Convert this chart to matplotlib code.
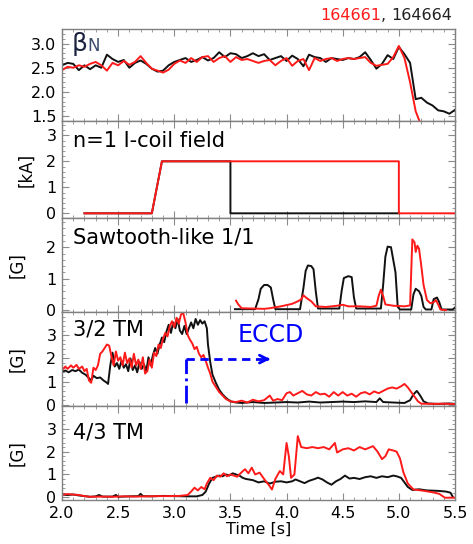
import numpy as np
import matplotlib
matplotlib.use("Agg")
import matplotlib.pyplot as plt
from matplotlib.ticker import MultipleLocator, AutoMinorLocator, FormatStrFormatter

# ---- data ----
bn_t = np.round(np.arange(2.0, 5.501, 0.05), 2)
bn_black = [2.55, 2.60, 2.58, 2.45, 2.55, 2.47, 2.55, 2.50, 2.77, 2.68,
            2.62, 2.66, 2.50, 2.60, 2.65, 2.58, 2.48, 2.42, 2.44, 2.55,
            2.62, 2.66, 2.70, 2.62, 2.66, 2.72, 2.65, 2.70, 2.82, 2.72,
            2.80, 2.78, 2.70, 2.74, 2.80, 2.74, 2.78, 2.66, 2.70, 2.74,
            2.64, 2.75, 2.68, 2.53, 2.77, 2.72, 2.70, 2.62, 2.70, 2.68,
            2.66, 2.70, 2.68, 2.72, 2.82, 2.66, 2.48, 2.58, 2.76, 2.68,
            2.93, 2.78, 2.60, 1.85, 1.88, 1.78, 1.72, 1.62, 1.60, 1.55, 1.63]
bn_red = [2.45, 2.52, 2.50, 2.55, 2.52, 2.58, 2.62, 2.55, 2.44, 2.60,
          2.55, 2.64, 2.56, 2.62, 2.74, 2.60, 2.48, 2.44, 2.40, 2.46,
          2.58, 2.65, 2.60, 2.70, 2.62, 2.72, 2.74, 2.62, 2.70, 2.74,
          2.62, 2.72, 2.66, 2.68, 2.64, 2.60, 2.64, 2.66, 2.55, 2.64,
          2.70, 2.54, 2.64, 2.68, 2.45, 2.70, 2.64, 2.68, 2.70, 2.64,
          2.68, 2.70, 2.68, 2.70, 2.72, 2.60, 2.54, 2.56, 2.58, 2.72,
          2.95, 2.70, 2.20, 1.60, 1.30]

icoil_black_t = [2.2, 2.8, 2.89, 3.5, 3.5, 5.0]
icoil_black = [0, 0, 2, 2, 0, 0]
icoil_red_t = [2.2, 2.8, 2.89, 5.0, 5.0, 5.5]
icoil_red = [0, 0, 2, 2, 0, 0]

saw_black_t = [3.54, 3.72, 3.75, 3.77, 3.80, 3.83, 3.86, 3.88, 3.90, 4.12, 4.15, 4.17,
               4.19, 4.22, 4.24, 4.26, 4.28, 4.47, 4.49, 4.51, 4.55, 4.58, 4.60, 4.62,
               4.84, 4.86, 4.88, 4.90, 4.93, 4.95, 4.97, 4.99, 5.01, 5.11, 5.13, 5.15,
               5.18, 5.20, 5.22, 5.24, 5.29, 5.31, 5.34, 5.36, 5.38, 5.48, 5.50]
saw_black = [0.03, 0.03, 0.35, 0.68, 0.80, 0.80, 0.72, 0.35, 0.03, 0.03, 0.70, 1.25,
             1.42, 1.40, 1.30, 0.60, 0.05, 0.05, 0.60, 1.02, 1.08, 1.05, 0.40, 0.05,
             0.05, 0.80, 1.70, 2.02, 2.00, 1.60, 1.20, 0.10, 0.02, 0.02, 0.50, 0.68,
             0.60, 0.45, 0.10, 0.02, 0.02, 0.35, 0.40, 0.25, 0.02, 0.02, 0.08]
saw_red_t = [3.55, 3.57, 3.60, 3.70, 3.80, 3.85, 3.95, 4.05, 4.10, 4.13, 4.15, 4.18,
             4.22, 4.26, 4.35, 4.45, 4.50, 4.55, 4.65, 4.75, 4.80, 4.82, 4.84, 4.86,
             4.88, 4.95, 5.05, 5.10, 5.11, 5.12, 5.14, 5.15, 5.165, 5.18, 5.20, 5.22,
             5.25, 5.28, 5.31, 5.33, 5.35, 5.37, 5.42]
saw_red = [0.30, 0.18, 0.06, 0.05, 0.04, 0.06, 0.12, 0.20, 0.28, 0.34, 0.47, 0.38,
           0.28, 0.12, 0.10, 0.14, 0.17, 0.12, 0.12, 0.10, 0.14, 0.45, 0.65, 0.45,
           0.18, 0.14, 0.12, 0.15, 1.20, 2.25, 2.15, 1.85, 2.05, 1.95, 1.40, 0.80,
           0.32, 0.22, 0.25, 0.32, 0.18, 0.02, 0.00]

tm32_black_t = [2.00, 2.03, 2.06, 2.09, 2.12, 2.15, 2.18, 2.21, 2.24, 2.26, 2.28, 2.31,
                2.34, 2.37, 2.40, 2.41, 2.43, 2.45, 2.47, 2.49, 2.51, 2.53, 2.55, 2.57,
                2.59, 2.61, 2.63, 2.65, 2.67, 2.69, 2.71, 2.73, 2.75, 2.77, 2.79, 2.81,
                2.83, 2.85, 2.87, 2.89, 2.91, 2.93, 2.95, 2.97, 2.99, 3.01, 3.03, 3.05,
                3.07, 3.09, 3.11, 3.13, 3.15, 3.17, 3.19, 3.21, 3.23, 3.25, 3.27, 3.29,
                3.30, 3.32, 3.34, 3.37, 3.40, 3.43, 3.46, 3.50, 3.55, 3.60, 3.70, 3.80,
                3.90, 4.00, 4.10, 4.20, 4.30, 4.40, 4.50, 4.60, 4.70, 4.80, 4.83, 4.86,
                4.95, 5.05, 5.10, 5.13, 5.16, 5.19, 5.22, 5.26, 5.35, 5.45, 5.50]
tm32_black = [1.42, 1.48, 1.40, 1.50, 1.45, 1.52, 1.38, 1.30, 1.15, 1.05, 1.25, 1.15,
              1.18, 1.05, 0.95, 0.90, 1.70, 2.25, 1.65, 1.80, 1.55, 1.90, 1.60, 1.75,
              1.45, 2.00, 1.50, 1.70, 1.40, 1.85, 1.55, 1.75, 1.45, 2.05, 1.70, 2.15,
              2.45, 2.20, 2.60, 2.90, 2.70, 3.15, 3.45, 3.10, 3.55, 3.30, 3.70, 3.20,
              3.05, 3.40, 3.05, 3.30, 3.55, 3.30, 3.70, 3.45, 3.65, 3.50, 3.60, 3.30,
              2.60, 1.85, 1.30, 0.95, 0.65, 0.45, 0.30, 0.15, 0.10, 0.08, 0.12, 0.08,
              0.10, 0.12, 0.10, 0.14, 0.10, 0.12, 0.14, 0.12, 0.15, 0.12, 0.28, 0.12,
              0.10, 0.08, 0.20, 0.45, 0.60, 0.40, 0.15, 0.06, 0.04, 0.06, 0.04]
tm32_red_t = [2.00, 2.03, 2.05, 2.08, 2.10, 2.13, 2.15, 2.18, 2.20, 2.22, 2.24, 2.26,
              2.28, 2.30, 2.32, 2.34, 2.36, 2.38, 2.40, 2.42, 2.44, 2.46, 2.48, 2.50,
              2.52, 2.54, 2.56, 2.58, 2.60, 2.62, 2.64, 2.66, 2.68, 2.70, 2.72, 2.74,
              2.76, 2.78, 2.80, 2.82, 2.84, 2.86, 2.88, 2.90, 2.92, 2.94, 2.96, 2.98,
              3.00, 3.02, 3.04, 3.06, 3.08, 3.10, 3.12, 3.14, 3.16, 3.18, 3.20, 3.22,
              3.24, 3.26, 3.28, 3.30, 3.32, 3.34, 3.36, 3.38, 3.40, 3.43, 3.46, 3.50,
              3.55, 3.60, 3.65, 3.70, 3.75, 3.80, 3.85, 3.88, 3.92, 3.96, 4.00, 4.03,
              4.06, 4.10, 4.14, 4.18, 4.22, 4.26, 4.30, 4.34, 4.38, 4.42, 4.46, 4.50,
              4.54, 4.58, 4.62, 4.66, 4.70, 4.74, 4.78, 4.82, 4.86, 4.90, 4.94, 4.98,
              5.02, 5.05, 5.08, 5.11, 5.14, 5.17, 5.20, 5.30, 5.40, 5.50]
tm32_red = [1.50, 1.65, 1.55, 1.70, 1.60, 1.72, 1.55, 1.65, 1.45, 1.55, 1.05, 0.95,
            1.60, 1.50, 1.70, 2.20, 2.30, 2.45, 2.60, 2.55, 2.10, 1.70, 2.30, 1.90,
            2.05, 1.70, 2.25, 1.80, 2.00, 1.60, 2.20, 1.70, 1.95, 1.55, 2.05, 1.35,
            1.45, 1.95, 1.60, 2.25, 2.10, 2.60, 2.45, 2.85, 3.10, 2.95, 3.40, 3.60,
            3.35, 3.75, 3.50, 3.90, 3.95, 3.55, 3.00, 2.80, 2.65, 2.40, 2.50, 2.20,
            2.05, 2.15, 1.90, 1.60, 1.35, 1.00, 0.85, 0.70, 0.55, 0.40, 0.25, 0.15,
            0.12, 0.18, 0.10, 0.22, 0.15, 0.20, 0.40, 0.18, 0.25, 0.20, 0.50, 0.55,
            0.40, 0.50, 0.60, 0.45, 0.40, 0.55, 0.45, 0.48, 0.35, 0.55, 0.40, 0.55,
            0.40, 0.48, 0.35, 0.50, 0.55, 0.45, 0.58, 0.50, 0.60, 0.70, 0.75, 0.70,
            0.80, 0.90, 0.75, 0.55, 0.35, 0.15, 0.05, 0.04, 0.05, 0.03]

tm43_black_t = [2.00, 2.05, 2.10, 2.15, 2.20, 2.25, 2.30, 2.33, 2.36, 2.45, 2.48, 2.50,
                2.60, 2.68, 2.70, 2.72, 2.80, 2.90, 3.00, 3.10, 3.20, 3.25, 3.28, 3.31,
                3.34, 3.37, 3.40, 3.43, 3.46, 3.49, 3.52, 3.55, 3.58, 3.61, 3.64, 3.70,
                3.75, 3.80, 3.85, 3.90, 3.95, 4.00, 4.05, 4.08, 4.12, 4.16, 4.20, 4.25,
                4.28, 4.32, 4.36, 4.40, 4.44, 4.48, 4.52, 4.56, 4.60, 4.65, 4.70, 4.75,
                4.80, 4.85, 4.90, 4.95, 4.98, 5.02, 5.05, 5.08, 5.12, 5.18, 5.25, 5.35,
                5.42, 5.46, 5.48]
tm43_black = [0.12, 0.10, 0.12, 0.08, 0.05, 0.02, 0.04, 0.10, 0.03, 0.03, 0.10, 0.02,
              0.04, 0.05, 0.15, 0.05, 0.04, 0.06, 0.05, 0.04, 0.04, 0.10, 0.25, 0.60,
              0.85, 0.90, 0.95, 0.92, 1.00, 0.95, 1.05, 1.00, 0.95, 0.85, 0.80, 0.75,
              0.65, 0.70, 0.60, 0.68, 0.70, 0.65, 0.70, 0.78, 0.70, 0.62, 0.72, 0.80,
              0.86, 0.78, 0.65, 0.55, 0.70, 0.80, 0.95, 0.82, 0.85, 0.80, 0.88, 0.92,
              0.85, 0.92, 0.88, 0.95, 0.92, 0.85, 0.65, 0.45, 0.32, 0.35, 0.30, 0.28,
              0.25, 0.20, 0.02]
tm43_red_t = [2.00, 2.05, 2.10, 2.15, 2.20, 2.25, 2.35, 2.45, 2.55, 2.65, 2.75, 2.85,
              2.95, 3.05, 3.12, 3.15, 3.18, 3.21, 3.24, 3.27, 3.29, 3.32, 3.35, 3.38,
              3.41, 3.44, 3.47, 3.50, 3.53, 3.56, 3.60, 3.63, 3.66, 3.69, 3.72, 3.76,
              3.80, 3.84, 3.87, 3.90, 3.94, 3.97, 4.00, 4.02, 4.04, 4.07, 4.10, 4.13,
              4.18, 4.23, 4.28, 4.33, 4.38, 4.43, 4.45, 4.50, 4.55, 4.60, 4.65, 4.70,
              4.77, 4.81, 4.85, 4.88, 4.91, 4.95, 4.98, 5.01, 5.04, 5.08, 5.13, 5.20,
              5.30, 5.36, 5.41, 5.50]
tm43_red = [0.12, 0.14, 0.12, 0.10, 0.05, 0.02, 0.03, 0.02, 0.04, 0.03, 0.04, 0.05,
            0.05, 0.06, 0.10, 0.25, 0.42, 0.30, 0.45, 0.35, 0.60, 0.85, 0.75, 0.95,
            0.90, 1.05, 0.92, 1.00, 0.95, 0.90, 1.10, 1.23, 1.05, 1.30, 1.00, 1.08,
            0.80, 0.55, 0.34, 0.80, 1.15, 1.00, 2.38, 1.80, 0.85, 1.00, 2.68, 2.20,
            2.15, 2.20, 2.15, 2.20, 2.10, 2.38, 1.96, 2.10, 2.15, 2.05, 2.20, 2.10,
            2.24, 2.00, 1.67, 1.80, 2.10, 2.05, 2.00, 1.70, 1.10, 0.60, 0.34, 0.30,
            0.22, 0.15, -0.02, -0.02]

# ---- figure ----
W, H = 473, 544
fig = plt.figure(figsize=(W / 100, H / 100), dpi=100)
plt.rcParams["font.family"] = "DejaVu Sans"

tops = [29, 121, 218, 312, 406]
bots = [121, 218, 312, 406, 500]
left, right = 62, 455

red = "#ff1a1a"
black = "#111111"
panel_fs = 15

axes = []
for top, bot in zip(tops, bots):
    ax = fig.add_axes([left / W, 1 - bot / H, (right - left) / W, (bot - top) / H])
    ax.set_xlim(2.0, 5.5)
    ax.xaxis.set_major_locator(MultipleLocator(0.5))
    ax.xaxis.set_minor_locator(AutoMinorLocator(5))
    ax.yaxis.set_minor_locator(AutoMinorLocator(5))
    ax.tick_params(which="both", direction="in", top=True, right=True,
                   color="0.55", labelsize=11.5, pad=4)
    ax.tick_params(which="major", length=5, width=0.8)
    ax.tick_params(which="minor", length=2.5, width=0.6)
    for s in ax.spines.values():
        s.set_color("0.5")
        s.set_linewidth(1.0)
    axes.append(ax)

for ax in axes[:-1]:
    ax.tick_params(labelbottom=False)

lw = 1.4

# beta_N
ax = axes[0]
ax.plot(bn_t, bn_black, color=black, lw=lw)
ax.plot(bn_t[:len(bn_red)], bn_red, color=red, lw=lw)
ax.set_ylim(1.4, 3.3)
ax.set_yticks([1.5, 2.0, 2.5, 3.0])
ax.yaxis.set_major_formatter(FormatStrFormatter("%.1f"))
beta = ax.text(0.024, 0.84, "β", transform=ax.transAxes,
               fontsize=18, va="center", ha="left", color="#1c2340")
ax.annotate("N", xy=(1.0, 0.02), xycoords=beta, ha="left", va="bottom",
            fontsize=12, color="#3a4a6a")

# I-coil
ax = axes[1]
ax.plot(icoil_black_t, icoil_black, color=black, lw=lw)
ax.plot(icoil_red_t, icoil_red, color=red, lw=lw)
ax.set_ylim(-0.18, 3.55)
ax.set_yticks([0, 1, 2, 3])
ax.set_ylabel("[kA]", fontsize=12, labelpad=8)
ax.text(0.028, 0.79, "n=1 I-coil field", transform=ax.transAxes,
        fontsize=panel_fs, va="center", ha="left")

# sawtooth
ax = axes[2]
ax.plot(saw_black_t, saw_black, color=black, lw=lw)
ax.plot(saw_red_t, saw_red, color=red, lw=lw)
ax.set_ylim(-0.06, 2.93)
ax.set_yticks([0, 1, 2])
ax.set_ylabel("[G]", fontsize=12, labelpad=14)
ax.text(0.028, 0.79, "Sawtooth-like 1/1", transform=ax.transAxes,
        fontsize=panel_fs, va="center", ha="left")

# 3/2 TM
ax = axes[3]
ax.plot(tm32_black_t, tm32_black, color=black, lw=lw)
ax.plot(tm32_red_t, tm32_red, color=red, lw=lw)
ax.set_ylim(-0.05, 4.0)
ax.set_yticks([0, 1, 2, 3])
ax.set_ylabel("[G]", fontsize=12, labelpad=14)
ax.text(0.028, 0.81, "3/2 TM", transform=ax.transAxes,
        fontsize=panel_fs, va="center", ha="left")
eccd_t0, eccd_t1, eccd_y = 3.10, 3.88, 1.97
ax.plot([eccd_t0, eccd_t0], [0.1, eccd_y], color="blue", lw=2, ls="-.")
ax.plot([eccd_t0, eccd_t1 - 0.04], [eccd_y, eccd_y], color="blue", lw=2, ls=(0, (3, 2)))
ax.annotate("", xy=(eccd_t1, eccd_y), xytext=(eccd_t1 - 0.08, eccd_y),
            arrowprops=dict(arrowstyle="->", color="blue", lw=2, mutation_scale=14))
ax.text(3.56, 3.0, "ECCD", color="blue", fontsize=17, va="center", ha="left")

# 4/3 TM
ax = axes[4]
ax.plot(tm43_black_t, tm43_black, color=black, lw=lw)
ax.plot(tm43_red_t, tm43_red, color=red, lw=lw)
ax.set_ylim(-0.12, 4.0)
ax.set_yticks([0, 1, 2, 3])
ax.set_ylabel("[G]", fontsize=12, labelpad=14)
ax.text(0.028, 0.72, "4/3 TM", transform=ax.transAxes,
        fontsize=panel_fs, va="center", ha="left")
ax.set_xticks([2.0, 2.5, 3.0, 3.5, 4.0, 4.5, 5.0, 5.5])
ax.xaxis.set_major_formatter(FormatStrFormatter("%.1f"))
ax.set_xlabel("Time [s]", fontsize=11.5, labelpad=1)

fig.align_ylabels(axes[1:])

# shot numbers
t1 = fig.text(452 / W, 1 - 16 / H, "164664", color="#222222", fontsize=11.5,
              ha="right", va="center")
t2 = axes[0].annotate(", ", xy=(0, 0), xycoords=t1, ha="right", va="bottom",
                      color="#222222", fontsize=11.5)
t3 = axes[0].annotate("164661", xy=(0, 0), xycoords=t2, ha="right", va="bottom",
                      color=red, fontsize=11.5)

fig.savefig("out.png", dpi=100)
